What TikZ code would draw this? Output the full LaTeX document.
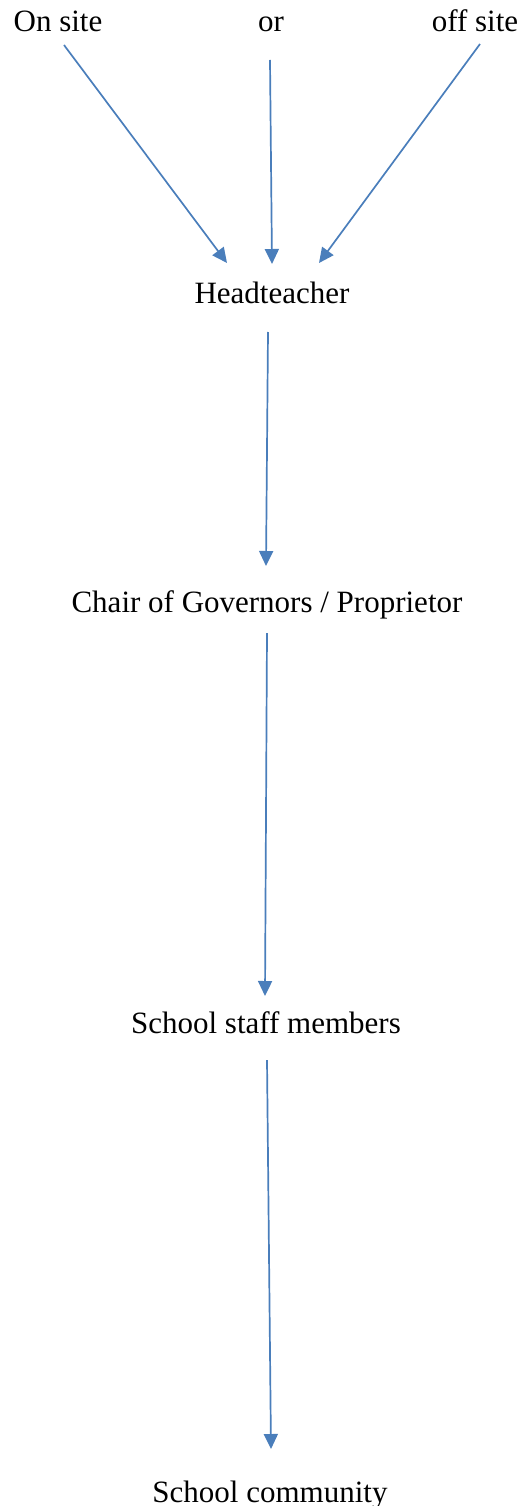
\documentclass[tikz,border=0pt]{standalone}
\usepackage{fontspec}
\setmainfont{Liberation Serif}
\usetikzlibrary{arrows.meta}
\definecolor{arrowblue}{HTML}{4A7EBB}
\tikzset{
  lbl/.style={inner sep=0pt, anchor=base, font=\fontsize{31}{37}\selectfont, text=black},
  conn/.style={draw=arrowblue, line width=1.7pt, -{Triangle[length=15pt,width=14pt]}}
}
\begin{document}
\begin{tikzpicture}[x=1pt,y=-1pt]
\useasboundingbox (0,0) rectangle (522,1506);
% labels
\node[lbl] (onsite) at (58,32) {On site};
\node[lbl] (or) at (271,32) {or};
\node[lbl] (offsite) at (475,32) {off site};
\node[lbl] (head) at (272,303) {Headteacher};
\node[lbl] (chair) at (267,612) {Chair of Governors / Proprietor};
\node[lbl] (staff) at (266,1033) {School staff members};
\node[lbl] (comm) at (270,1502) {School community};
% connector ends
\coordinate (onsiteS) at (64,45);
\coordinate (orS) at (270,60);
\coordinate (offsiteS) at (480,44);
\coordinate (headNW) at (227,263);
\coordinate (headN) at (272,264);
\coordinate (headNE) at (319,263);
\coordinate (headS) at (268,332);
\coordinate (chairN) at (266,566);
\coordinate (chairS) at (267,633);
\coordinate (staffN) at (265,996);
\coordinate (staffS) at (267,1060);
\coordinate (commN) at (271,1449);
% connectors
\draw[conn] (onsiteS) -- (headNW);
\draw[conn] (orS) -- (headN);
\draw[conn] (offsiteS) -- (headNE);
\draw[conn] (headS) -- (chairN);
\draw[conn] (chairS) -- (staffN);
\draw[conn] (staffS) -- (commN);
\end{tikzpicture}
\end{document}
